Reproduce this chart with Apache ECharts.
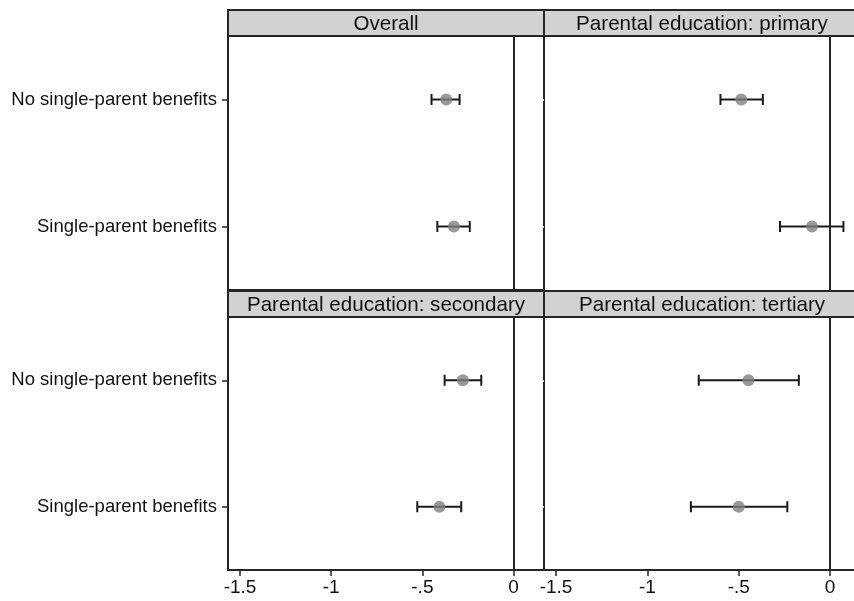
<!DOCTYPE html>
<html>
<head>
<meta charset="utf-8">
<script src="https://cdn.jsdelivr.net/npm/echarts@6/dist/echarts.min.js"></script>
<style>
  html, body { margin: 0; padding: 0; background: #fff; }
  #chart { width: 854px; height: 601px; }
</style>
</head>
<body>
<div id="chart"></div>
<script>
// Coefficient plot: point estimates with confidence intervals, four panels
const categories = ['No single-parent benefits', 'Single-parent benefits'];
const panelTitles = ['Overall', 'Parental education: primary', 'Parental education: secondary', 'Parental education: tertiary'];

const overallEst = [-0.369, -0.327];
const overallLow = [-0.450, -0.418];
const overallHigh = [-0.296, -0.240];

const primaryEst = [-0.486, -0.099];
const primaryLow = [-0.600, -0.274];
const primaryHigh = [-0.368, 0.073];

const secondaryEst = [-0.278, -0.407];
const secondaryLow = [-0.378, -0.528];
const secondaryHigh = [-0.177, -0.287];

const tertiaryEst = [-0.447, -0.500];
const tertiaryLow = [-0.719, -0.762];
const tertiaryHigh = [-0.171, -0.234];

const xTicks = [-1.5, -1, -0.5, 0];
const xTickLabels = ['-1.5', '-1', '-.5', '0'];

const panels = [
  { est: overallEst, low: overallLow, high: overallHigh },
  { est: primaryEst, low: primaryLow, high: primaryHigh },
  { est: secondaryEst, low: secondaryLow, high: secondaryHigh },
  { est: tertiaryEst, low: tertiaryLow, high: tertiaryHigh }
];

// Panel geometry: the right-hand column runs past the canvas edge
const FONT = '"Liberation Sans", Arial, sans-serif';
const frameColor = '#262626';
const colLeft = [228, 544];
const colWidth = [316, 310];
const rowTop = [36, 317];
const rowHeight = [254, 253];
const headerH = 26;
const fullWidth = 316;
const xMin = -1.566;
const colMax = [0.167, 0.131];

const chart = echarts.init(document.getElementById('chart'), null, { renderer: 'canvas' });

const grids = [], xAxes = [], yAxes = [], series = [], graphics = [];

panels.forEach((p, i) => {
  const col = i % 2, row = Math.floor(i / 2);
  const leftCol = col === 0;
  const bottomRow = row === 1;
  grids.push({
    left: colLeft[col], top: rowTop[row], width: colWidth[col], height: rowHeight[row],
    show: leftCol, borderColor: frameColor, borderWidth: 2, backgroundColor: 'transparent'
  });
  xAxes.push({
    type: 'value', gridIndex: i, min: xMin, max: colMax[col],
    splitLine: { show: false },
    axisLine: { show: !leftCol && bottomRow, onZero: false, lineStyle: { color: frameColor, width: 2 } },
    axisTick: { show: bottomRow, length: 6, lineStyle: { color: frameColor, width: 1.5 }, customValues: xTicks },
    axisLabel: {
      show: bottomRow, customValues: xTicks, margin: 8,
      color: '#111', fontSize: 19, fontFamily: FONT,
      formatter: v => xTickLabels[xTicks.findIndex(t => Math.abs(t - v) < 1e-9)]
    }
  });
  yAxes.push({
    type: 'category', gridIndex: i, data: categories, inverse: true, position: 'left',
    axisLine: { show: false, onZero: false },
    axisTick: { show: true, alignWithLabel: true, length: 6, lineStyle: { color: leftCol ? frameColor : '#ffffff', width: 1.5 } },
    axisLabel: { show: leftCol, margin: 11, color: '#111', fontSize: 18.5, fontFamily: FONT },
    splitLine: { show: false }
  });

  // confidence interval whiskers
  series.push({
    type: 'custom', xAxisIndex: i, yAxisIndex: i, z: 3, silent: true,
    data: categories.map((c, k) => [p.low[k], p.high[k], k]),
    renderItem: (params, api) => {
      const a = api.coord([api.value(0), api.value(2)]);
      const b = api.coord([api.value(1), api.value(2)]);
      const cap = 5.5;
      const style = { stroke: '#1a1a1a', lineWidth: 2 };
      return {
        type: 'group',
        children: [
          { type: 'line', shape: { x1: a[0], y1: a[1], x2: b[0], y2: b[1] }, style },
          { type: 'line', shape: { x1: a[0], y1: a[1] - cap, x2: a[0], y2: a[1] + cap }, style },
          { type: 'line', shape: { x1: b[0], y1: b[1] - cap, x2: b[0], y2: b[1] + cap }, style }
        ]
      };
    }
  });

  // point estimates plus reference line at zero
  series.push({
    type: 'scatter', xAxisIndex: i, yAxisIndex: i, z: 4, silent: true,
    symbol: 'circle', symbolSize: 12,
    itemStyle: { color: '#808080' },
    data: categories.map((c, k) => [p.est[k], c]),
    markLine: {
      silent: true, symbol: ['none', 'none'], label: { show: false },
      lineStyle: { color: frameColor, width: 2, type: 'solid' },
      data: [{ xAxis: 0 }]
    }
  });

  // panel header strip
  const hx = colLeft[col], hy = rowTop[row] - headerH;
  graphics.push({
    type: 'rect', z: 10,
    shape: { x: hx, y: hy, width: fullWidth, height: headerH },
    style: { fill: '#d2d2d2', stroke: frameColor, lineWidth: 2 }
  });
  graphics.push({
    type: 'text', z: 11,
    x: hx + fullWidth / 2, y: hy + headerH / 2 + 1,
    style: {
      text: panelTitles[i], fill: '#111', font: '20.6px ' + FONT,
      textAlign: 'center', textVerticalAlign: 'middle'
    }
  });
});

chart.setOption({
  animation: false,
  backgroundColor: '#ffffff',
  grid: grids,
  xAxis: xAxes,
  yAxis: yAxes,
  series: series,
  graphic: graphics
});
</script>
</body>
</html>
